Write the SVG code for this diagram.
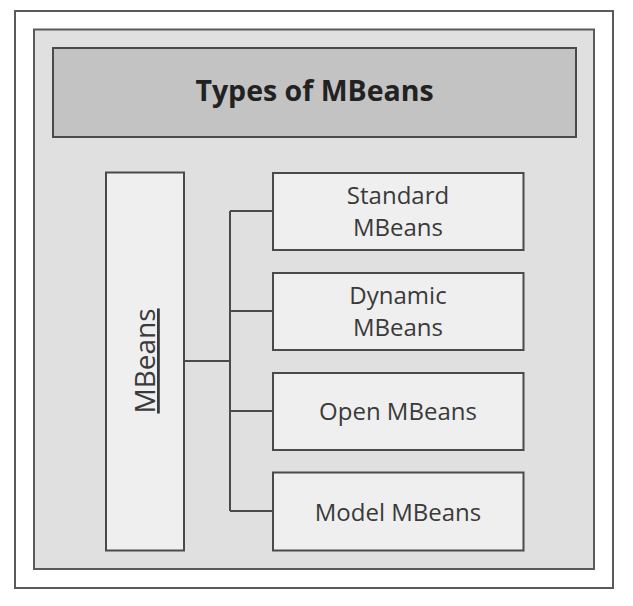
<svg xmlns="http://www.w3.org/2000/svg" width="633" height="606" viewBox="0 0 633 606">
<style>
.box{fill:#efefef;stroke:#4a4a4a;stroke-width:2}
.lbl{font-family:"Open Sans","Liberation Sans",sans-serif;font-size:24px;fill:#3a3a3a;text-anchor:middle}
.conn{fill:none;stroke:#4a4a4a;stroke-width:2}
</style>
<rect x="0" y="0" width="633" height="606" fill="#ffffff"/>
<g id="frame">
<rect x="15" y="11" width="598" height="577" fill="#ffffff" stroke="#5a5a5a" stroke-width="2"/>
<rect x="34" y="29.5" width="560" height="539.5" fill="#e0e0e0" stroke="#5a5a5a" stroke-width="2"/>
</g>
<g id="title">
<rect x="53" y="48" width="523" height="89" fill="#c3c3c3" stroke="#4a4a4a" stroke-width="2"/>
<text x="314.5" y="101" font-family="'Open Sans','Liberation Sans',sans-serif" font-size="28.5" font-weight="bold" fill="#222" text-anchor="middle">Types of MBeans</text>
</g>
<g id="connectors">
<path class="conn" d="M184 361H230M230 211V511M230 211H273M230 311H273M230 411H273M230 511H273"/>
</g>
<g id="mbeans">
<rect class="box" x="106" y="172.5" width="78" height="378"/>
<text transform="translate(155,361) rotate(-90)" font-family="'Open Sans','Liberation Sans',sans-serif" font-size="28" fill="#3a3a3a" text-anchor="middle" text-decoration="underline">MBeans</text>
</g>
<g id="standard">
<rect class="box" x="273" y="173" width="250.5" height="77"/>
<text class="lbl" x="398" y="204">Standard</text>
<text class="lbl" x="398" y="236">MBeans</text>
</g>
<g id="dynamic">
<rect class="box" x="273" y="273" width="250.5" height="77"/>
<text class="lbl" x="398" y="304">Dynamic</text>
<text class="lbl" x="398" y="336">MBeans</text>
</g>
<g id="open">
<rect class="box" x="273" y="373" width="250.5" height="77"/>
<text class="lbl" x="398" y="420">Open MBeans</text>
</g>
<g id="model">
<rect class="box" x="273" y="472.5" width="250.5" height="78"/>
<text class="lbl" x="398" y="521">Model MBeans</text>
</g>
</svg>
